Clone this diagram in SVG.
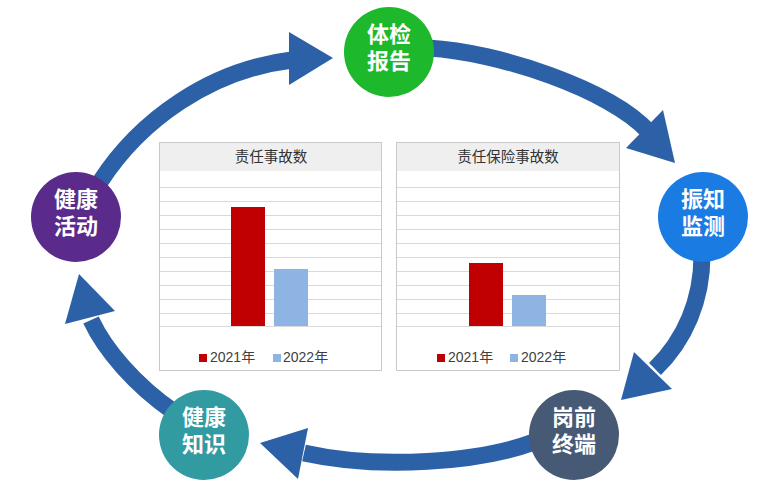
<svg xmlns="http://www.w3.org/2000/svg" width="783" height="503" viewBox="0 0 783 503">
<style>
.shaft{fill:none;stroke:#2c61a8;stroke-width:17;stroke-linecap:butt}
.head{fill:#2c61a8}
.node text{fill:#fff;font-family:"Liberation Sans","Noto Sans CJK SC",sans-serif;font-size:22px;font-weight:bold;text-anchor:middle}
.frame{fill:#fff;stroke:#c9c9c9;stroke-width:1}
.hdr{fill:#efefef}
.grid line{stroke:#d9d9d9;stroke-width:1}
.title{font-family:"Liberation Sans","Noto Sans CJK SC",sans-serif;font-size:14.5px;fill:#333;text-anchor:middle}
.leg{font-family:"Liberation Sans","Noto Sans CJK SC",sans-serif;font-size:14px;fill:#404040}
.r{fill:#c00000}
.b{fill:#8eb4e3}
</style>
<rect width="783" height="503" fill="#fff"/>
<g id="charts">
<g id="chart1">
<rect class="frame" x="159.5" y="142.5" width="222" height="228"/>
<rect class="hdr" x="160" y="143" width="221" height="28"/>
<text class="title" x="271" y="162">责任事故数</text>
<g class="grid">
<line x1="160" x2="381" y1="187.5" y2="187.5"/><line x1="160" x2="381" y1="201.5" y2="201.5"/><line x1="160" x2="381" y1="215.5" y2="215.5"/><line x1="160" x2="381" y1="229.5" y2="229.5"/><line x1="160" x2="381" y1="243.5" y2="243.5"/><line x1="160" x2="381" y1="257.5" y2="257.5"/><line x1="160" x2="381" y1="271.5" y2="271.5"/><line x1="160" x2="381" y1="285.5" y2="285.5"/><line x1="160" x2="381" y1="299.5" y2="299.5"/><line x1="160" x2="381" y1="313.5" y2="313.5"/><line x1="160" x2="381" y1="326.5" y2="326.5"/>
</g>
<rect class="r" x="231" y="207" width="34" height="119"/>
<rect class="b" x="274" y="269" width="34" height="57"/>
<rect class="r" x="199" y="354" width="8" height="8"/>
<text class="leg" x="210" y="362">2021年</text>
<rect class="b" x="273" y="354" width="8" height="8"/>
<text class="leg" x="283" y="362">2022年</text>
</g>
<g id="chart2">
<rect class="frame" x="396.5" y="142.5" width="223" height="228"/>
<rect class="hdr" x="397" y="143" width="222" height="28"/>
<text class="title" x="508" y="162">责任保险事故数</text>
<g class="grid">
<line x1="397" x2="619" y1="187.5" y2="187.5"/><line x1="397" x2="619" y1="201.5" y2="201.5"/><line x1="397" x2="619" y1="215.5" y2="215.5"/><line x1="397" x2="619" y1="229.5" y2="229.5"/><line x1="397" x2="619" y1="243.5" y2="243.5"/><line x1="397" x2="619" y1="257.5" y2="257.5"/><line x1="397" x2="619" y1="271.5" y2="271.5"/><line x1="397" x2="619" y1="285.5" y2="285.5"/><line x1="397" x2="619" y1="299.5" y2="299.5"/><line x1="397" x2="619" y1="313.5" y2="313.5"/><line x1="397" x2="619" y1="326.5" y2="326.5"/>
</g>
<rect class="r" x="469" y="263" width="34" height="63"/>
<rect class="b" x="512" y="295" width="34" height="31"/>
<rect class="r" x="437" y="354" width="8" height="8"/>
<text class="leg" x="448" y="362">2021年</text>
<rect class="b" x="510" y="354" width="8" height="8"/>
<text class="leg" x="521" y="362">2022年</text>
</g>
</g>
<g id="connectors">
<path class="shaft" d="M100,182 C140,120 210,70 292,60"/>
<polygon class="head" points="289,32 333,58 289,85"/>
<path class="shaft" d="M428,48 C500,52 610,90 648,131"/>
<polygon class="head" points="663,110 675,163 626,148"/>
<path class="shaft" d="M702,255 C702,300 685,340 655,369"/>
<polygon class="head" points="634,352 621,400 672,389"/>
<path class="shaft" d="M534,442 C480,462 380,470 304,453"/>
<polygon class="head" points="308,428 260,443 298,479"/>
<path class="shaft" d="M174,412 C135,385 105,350 91,320"/>
<polygon class="head" points="65,324 79,274 115,311"/>
</g>
<g id="node-tijian" class="node">
<circle cx="389" cy="52" r="45" fill="#1db82c"/>
<text x="389" y="42">体检<tspan x="389" dy="27">报告</tspan></text>
</g>
<g id="node-zhenzhi" class="node">
<circle cx="703" cy="217" r="45" fill="#1a7be2"/>
<text x="703" y="207">振知<tspan x="703" dy="27">监测</tspan></text>
</g>
<g id="node-gangqian" class="node">
<circle cx="574" cy="435" r="45" fill="#475a75"/>
<text x="574" y="425">岗前<tspan x="574" dy="27">终端</tspan></text>
</g>
<g id="node-zhishi" class="node">
<circle cx="204" cy="435" r="45" fill="#329aa1"/>
<text x="204" y="425">健康<tspan x="204" dy="27">知识</tspan></text>
</g>
<g id="node-huodong" class="node">
<circle cx="76" cy="217" r="45" fill="#5a2b8b"/>
<text x="76" y="207">健康<tspan x="76" dy="27">活动</tspan></text>
</g>
</svg>
